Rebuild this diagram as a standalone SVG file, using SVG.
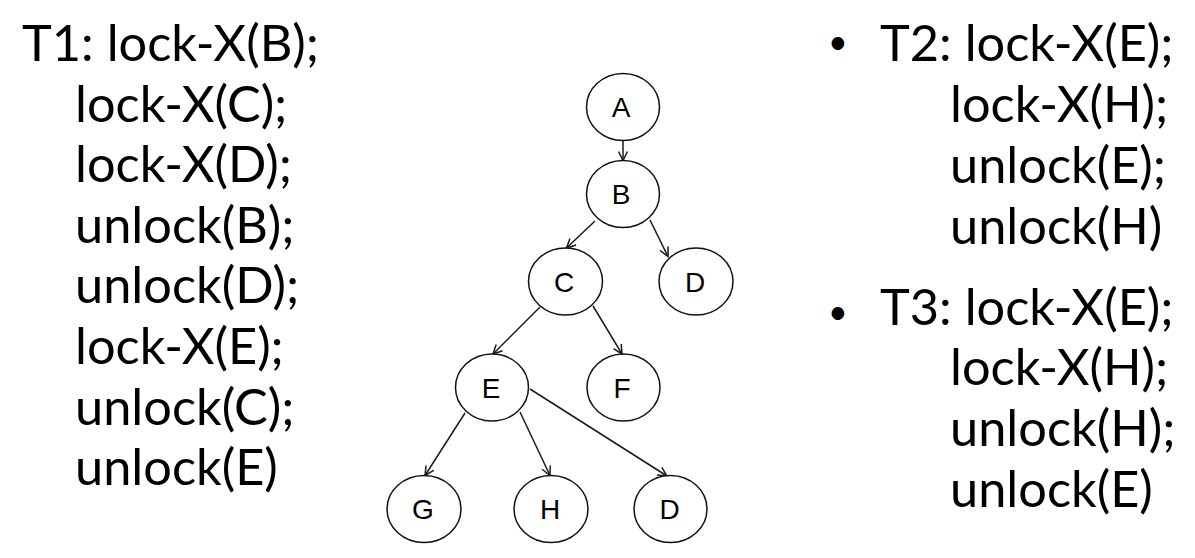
<svg xmlns="http://www.w3.org/2000/svg" width="1195" height="558" viewBox="0 0 1195 558">
<style>
.big{font-family:Lato,"Open Sans",sans-serif;font-size:50.5px;fill:#000}
.bul{font-family:Lato,"Open Sans",sans-serif;font-size:34px;fill:#000}
.node ellipse{fill:#fff;stroke:#111;stroke-width:1.5}
.lbl{font-family:"Liberation Sans",Arial,sans-serif;font-size:28px;fill:#000;text-anchor:middle}
.edges line{stroke:#1a1a1a;stroke-width:1.5;marker-end:url(#arr)}
</style>
<defs>
<marker id="arr" markerUnits="userSpaceOnUse" markerWidth="14" markerHeight="14" refX="10" refY="6" orient="auto">
<path d="M1,1.5 L10,6 L1,10.5" fill="none" stroke="#1a1a1a" stroke-width="1.5"/>
</marker>
</defs>
<rect width="1195" height="558" fill="#fff"/>
<g id="t1">
<text class="big" x="22" y="61">T1: lock-X(B);</text>
<text class="big" x="75" y="122">lock-X(C);</text>
<text class="big" x="75" y="182">lock-X(D);</text>
<text class="big" x="75" y="243">unlock(B);</text>
<text class="big" x="75" y="303">unlock(D);</text>
<text class="big" x="75" y="364">lock-X(E);</text>
<text class="big" x="75" y="425">unlock(C);</text>
<text class="big" x="75" y="485">unlock(E)</text>
</g>
<g id="t2">
<text class="bul" x="828" y="53.5">•</text>
<text class="big" x="880" y="61">T2: lock-X(E);</text>
<text class="big" x="950" y="122">lock-X(H);</text>
<text class="big" x="950" y="183">unlock(E);</text>
<text class="big" x="950" y="244">unlock(H)</text>
</g>
<g id="t3">
<text class="bul" x="828" y="323.5">•</text>
<text class="big" x="880" y="325">T3: lock-X(E);</text>
<text class="big" x="950" y="385">lock-X(H);</text>
<text class="big" x="950" y="446">unlock(H);</text>
<text class="big" x="950" y="507">unlock(E)</text>
</g>
<g class="edges" id="connectors">
<line x1="623" y1="140.5" x2="623" y2="160.5"/>
<line x1="595" y1="221" x2="566.5" y2="248"/>
<line x1="650" y1="220" x2="668" y2="256.5"/>
<line x1="540" y1="307" x2="493" y2="354"/>
<line x1="593" y1="306" x2="622" y2="354"/>
<line x1="465" y1="413" x2="425" y2="475.5"/>
<line x1="520" y1="412" x2="550" y2="475.5"/>
<line x1="530" y1="389" x2="667" y2="476"/>
</g>
<g class="node" id="nA"><ellipse cx="623" cy="107" rx="36.5" ry="33.5"/><text class="lbl" x="621" y="117">A</text></g>
<g class="node" id="nB"><ellipse cx="623" cy="194" rx="36.5" ry="33.5"/><text class="lbl" x="621" y="204">B</text></g>
<g class="node" id="nC"><ellipse cx="565.5" cy="281.5" rx="37" ry="33.5"/><text class="lbl" x="564" y="291.5">C</text></g>
<g class="node" id="nD1"><ellipse cx="696" cy="281.5" rx="37" ry="33.5"/><text class="lbl" x="695" y="291.5">D</text></g>
<g class="node" id="nE"><ellipse cx="492" cy="387.5" rx="36.5" ry="33.5"/><text class="lbl" x="491" y="397.5">E</text></g>
<g class="node" id="nF"><ellipse cx="623.5" cy="387.5" rx="36.5" ry="33.5"/><text class="lbl" x="622" y="397.5">F</text></g>
<g class="node" id="nG"><ellipse cx="424" cy="509" rx="37" ry="33.5"/><text class="lbl" x="423" y="519">G</text></g>
<g class="node" id="nH"><ellipse cx="551" cy="509" rx="37" ry="33.5"/><text class="lbl" x="550" y="519">H</text></g>
<g class="node" id="nD2"><ellipse cx="670.5" cy="509" rx="36.5" ry="33.5"/><text class="lbl" x="669.5" y="519">D</text></g>
</svg>
